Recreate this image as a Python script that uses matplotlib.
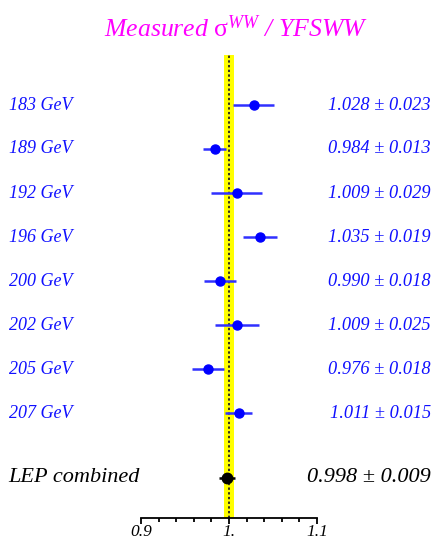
import matplotlib
matplotlib.use("Agg")
import matplotlib.pyplot as plt

# Measured WW cross-section normalised to the YFSWW prediction
energies = ["183 GeV", "189 GeV", "192 GeV", "196 GeV",
            "200 GeV", "202 GeV", "205 GeV", "207 GeV"]
ratios = [1.028, 0.984, 1.009, 1.035, 0.990, 1.009, 0.976, 1.011]
errors = [0.023, 0.013, 0.029, 0.019, 0.018, 0.025, 0.018, 0.015]
combined_label = "LEP combined"
combined_ratio = 0.998
combined_error = 0.009
theory_band = 0.0052
xticks = [0.9, 1.0, 1.1]
xtick_labels = ["0.9", "1.", "1.1"]

SERIF = ["Liberation Serif", "DejaVu Serif"]
BLUE = "#1010ff"

plt.rcParams["mathtext.fontset"] = "custom"
plt.rcParams["mathtext.rm"] = "Liberation Serif"
plt.rcParams["mathtext.it"] = "Liberation Serif:italic"

fig = plt.figure(figsize=(4.34, 5.41), dpi=100)
W, H = 434, 541
x0, x1 = 141, 317
ytop, ybot = 55, 518
ax = fig.add_axes([x0 / W, (H - ybot) / H, (x1 - x0) / W, (ybot - ytop) / H])

row_step = 44.0
first_row = 105.0
rows = list(range(len(energies)))
comb_row = (478 - first_row) / row_step
ax.set_ylim((ybot - first_row) / row_step, (ytop - first_row) / row_step)
ax.set_xlim(0.9, 1.1)

# theory band and reference line
ax.axvspan(1.0 - theory_band, 1.0 + theory_band, color="#ffff00", zorder=1, lw=0)
ax.axvline(1.0, color="#222222", ls=(0, (1.3, 1.3)), lw=1.3, zorder=2)

ax.errorbar(ratios, rows, xerr=errors, fmt="o", color="#0000ff", ecolor="#3030ff",
            elinewidth=1.8, capsize=0, markersize=6.5, zorder=3)
ax.errorbar([combined_ratio], [comb_row], xerr=[combined_error], fmt="o",
            color="black", elinewidth=1.8, capsize=0, markersize=7.5, zorder=3)

for spine in ("top", "left", "right"):
    ax.spines[spine].set_visible(False)
ax.spines["bottom"].set_linewidth(1.3)
ax.set_yticks([])
ax.set_xticks(xticks)
ax.set_xticks([0.92, 0.94, 0.96, 0.98, 1.02, 1.04, 1.06, 1.08], minor=True)
ax.set_xticklabels(xtick_labels, fontfamily=SERIF, fontstyle="italic", fontsize=12.5)
ax.tick_params(axis="x", which="major", direction="out", length=4, width=1.3, pad=8.9)
ax.tick_params(axis="x", which="minor", direction="out", length=3, width=1.3)
for t in ax.get_xticklabels():
    t.set_verticalalignment("baseline")

# row labels and values in figure pixel coordinates
for r, lab, v, e in zip(rows, energies, ratios, errors):
    y = 1 - (first_row + r * row_step) / H
    fig.text(9 / W, y, lab, color=BLUE, fontfamily=SERIF, fontstyle="italic",
             fontsize=13, ha="left", va="center")
    fig.text(431 / W, y, f"{v:.3f} \u00b1 {e:.3f}", color=BLUE, fontfamily=SERIF,
             fontstyle="italic", fontsize=13.2, ha="right", va="center")

yc = 1 - 478 / H
fig.text(8 / W, yc, combined_label, color="black", fontfamily=SERIF,
         fontstyle="italic", fontsize=16, ha="left", va="center")
fig.text(431 / W, yc, f"{combined_ratio:.3f} \u00b1 {combined_error:.3f}",
         color="black", fontfamily=SERIF, fontstyle="italic", fontsize=16,
         ha="right", va="center")

fig.text(236 / W, 1 - 29 / H, r"Measured $\mathrm{\sigma}^{WW}$ / YFSWW", color="#ff00ff",
         fontfamily=SERIF, fontstyle="italic", fontsize=18.5, ha="center", va="center")

fig.savefig("out.png", dpi=100)
